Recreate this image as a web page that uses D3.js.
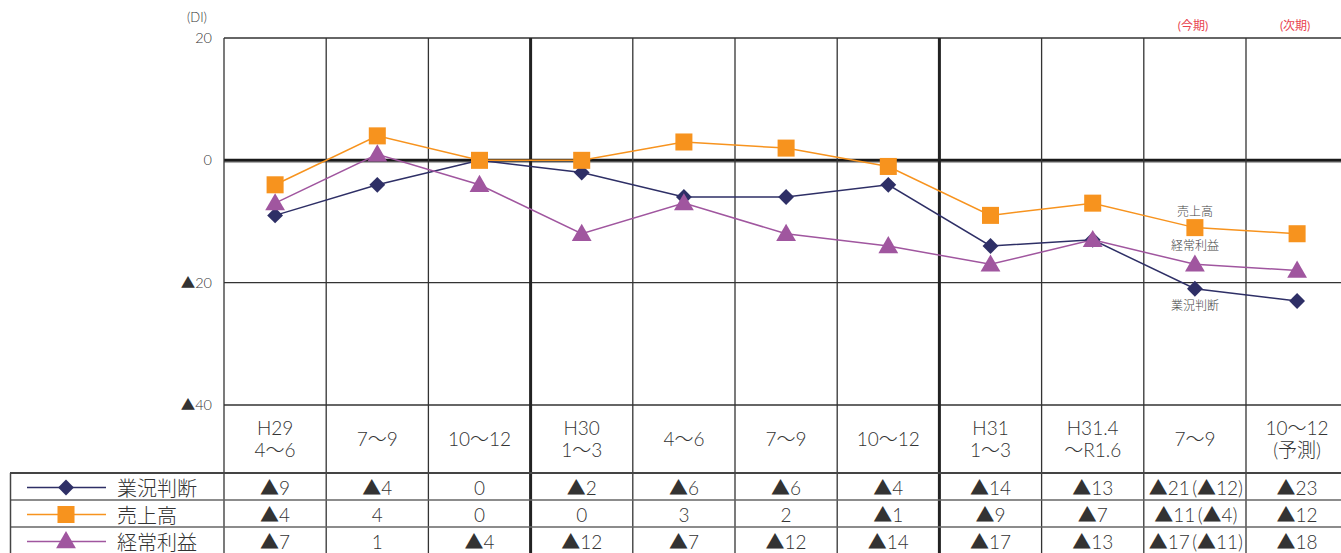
<!DOCTYPE html>
<html>
<head>
<meta charset="utf-8">
<script src="https://cdn.jsdelivr.net/npm/d3@7"></script>
<style>
  html, body { margin: 0; padding: 0; background: #fff; }
  svg { display: block; }
  text { font-family: Lato, "Noto Sans CJK JP", sans-serif; font-weight: 300; }
</style>
</head>
<body>
<svg id="chart" width="1341" height="553"></svg>
<script>
// Quarter labels (two lines each)
const periods = [
  ["H29", "4〜6"], ["7〜9"], ["10〜12"],
  ["H30", "1〜3"], ["4〜6"], ["7〜9"], ["10〜12"],
  ["H31", "1〜3"], ["H31.4", "〜R1.6"], ["7〜9"], ["10〜12", "(予測)"]
];
const seriesNames = ["業況判断", "売上高", "経常利益"];
const businessDI = [-9, -4, 0, -2, -6, -6, -4, -14, -13, -21, -23];
const salesDI    = [-4, 4, 0, 0, 3, 2, -1, -9, -7, -11, -12];
const profitDI   = [-7, 1, -4, -12, -7, -12, -14, -17, -13, -17, -18];
// Previous-survey forecast for the current quarter, shown in brackets
const forecastPrev = [-12, -4, -11];
const forecastCol = 9;
const yTicks = [20, 0, -20, -40];
const periodNotes = [["(今期)", 9], ["(次期)", 10]];
const yearBreaks = [3, 7];

const svg = d3.select("#chart");
const colors = ["#2e2f66", "#f7931e", "#a0569f"];
const symbols = [d3.symbolDiamond2, d3.symbolSquare, d3.symbolTriangle];
const seriesValues = [businessDI, salesDI, profitDI];

const left = 224, colW = 102.2;
const x = d3.scaleBand().domain(d3.range(periods.length))
  .range([left, left + colW * periods.length]).paddingInner(0).paddingOuter(0);
const y = d3.scaleLinear().domain([-40, 20]).range([405, 38]);
const fmt = v => v < 0 ? "▲" + Math.abs(v) : String(v);

const headerBottom = 473, rowH = 27;

// Horizontal grid lines
svg.append("g").selectAll("line").data(yTicks).join("line")
  .attr("x1", left).attr("x2", 1341)
  .attr("y1", d => y(d)).attr("y2", d => y(d))
  .attr("stroke", d => d === 0 ? "#1a1a1a" : "#333")
  .attr("stroke-width", d => d === 0 ? 3 : 1.3);
svg.append("line").attr("x1", left).attr("x2", 1341)
  .attr("y1", y(0) + 2.2).attr("y2", y(0) + 2.2)
  .attr("stroke", "#aaa").attr("stroke-width", 1);

// Vertical column lines through chart and table
const bounds = d3.range(periods.length + 1).map(i => i === periods.length ? x.range()[1] : x(i));
svg.append("g").selectAll("line").data(bounds).join("line")
  .attr("x1", d => d).attr("x2", d => d)
  .attr("y1", y(20)).attr("y2", 553)
  .attr("stroke", (d, i) => yearBreaks.includes(i) ? "#222" : "#333")
  .attr("stroke-width", (d, i) => yearBreaks.includes(i) ? 3 : 1.3);

// Table horizontal lines
svg.append("line").attr("x1", 10).attr("x2", 1341)
  .attr("y1", headerBottom).attr("y2", headerBottom)
  .attr("stroke", "#444").attr("stroke-width", 2);
svg.append("g").selectAll("line").data([1, 2]).join("line")
  .attr("x1", 10).attr("x2", 1341)
  .attr("y1", d => headerBottom + rowH * d).attr("y2", d => headerBottom + rowH * d)
  .attr("stroke", "#666").attr("stroke-width", 1.5);
svg.append("line").attr("x1", 10.5).attr("x2", 10.5)
  .attr("y1", headerBottom).attr("y2", 553)
  .attr("stroke", "#444").attr("stroke-width", 1.5);

// Y axis labels
const yAxis = d3.axisLeft(y).tickValues(yTicks).tickSize(0).tickPadding(12).tickFormat(fmt);
const ya = svg.append("g").attr("transform", `translate(${left},0)`).call(yAxis);
ya.select(".domain").remove();
ya.selectAll("text").attr("font-size", 14.5).attr("fill", "#333")
  .attr("font-family", "Lato, 'Noto Sans CJK JP', sans-serif");
svg.append("text").attr("x", 197).attr("y", 22).attr("text-anchor", "middle")
  .attr("font-size", 13).attr("fill", "#333").text("(DI)");

// Period notes above chart
svg.append("g").selectAll("text").data(periodNotes).join("text")
  .attr("x", d => x(d[1]) + x.bandwidth() / 2 - 2).attr("y", 30)
  .attr("text-anchor", "middle").attr("font-size", 12).attr("fill", "#e8444f")
  .attr("font-family", "'Noto Sans CJK JP', sans-serif").style("font-weight", 400)
  .text(d => d[0]);

// Header cells
const hdr = svg.append("g").selectAll("text").data(periods).join("text")
  .attr("text-anchor", "middle").attr("font-size", 19).attr("fill", "#333")
  .attr("font-family", "Lato, 'Noto Sans CJK JP', sans-serif");
hdr.each(function (d, i) {
  const t = d3.select(this);
  const cx = x(i) + x.bandwidth() / 2;
  const mid = (405 + headerBottom) / 2;
  const lh = 22;
  d.forEach((line, j) => {
    t.append("tspan").attr("x", cx)
      .attr("y", mid + 7 + (j - (d.length - 1) / 2) * lh)
      .text(line);
  });
});

// Series lines and markers
const line = d3.line().x((d, i) => x(i) + x.bandwidth() / 2).y(d => y(d));
seriesValues.forEach((vals, s) => {
  svg.append("path").datum(vals).attr("d", line)
    .attr("fill", "none").attr("stroke", colors[s]).attr("stroke-width", 1.5);
});
const sizes = [160, 290, 170];
seriesValues.forEach((vals, s) => {
  svg.append("g").selectAll("path").data(vals).join("path")
    .attr("transform", (d, i) => `translate(${x(i) + x.bandwidth() / 2},${y(d) + (s === 2 ? 1.5 : 0)})`)
    .attr("d", d3.symbol().type(symbols[s]).size(sizes[s]))
    .attr("fill", colors[s]);
});

// Series name labels near the current quarter
const inLabels = [[0, 310], [1, 216], [2, 250]];
svg.append("g").selectAll("text").data(inLabels).join("text")
  .attr("x", x(9) + x.bandwidth() / 2).attr("y", d => d[1])
  .attr("text-anchor", "middle").attr("font-size", 12).attr("fill", "#444")
  .attr("font-family", "'Noto Sans CJK JP', sans-serif")
  .text(d => seriesNames[d[0]]);

// Legend column
seriesNames.forEach((name, s) => {
  const cy = headerBottom + rowH * s + rowH / 2 + 1;
  const g = svg.append("g");
  g.append("line").attr("x1", 27).attr("x2", 106).attr("y1", cy).attr("y2", cy)
    .attr("stroke", colors[s]).attr("stroke-width", 1.3);
  g.append("path").attr("transform", `translate(66,${cy + (s === 2 ? 1 : 0)})`)
    .attr("d", d3.symbol().type(symbols[s]).size(sizes[s]))
    .attr("fill", colors[s]);
  g.append("text").attr("x", 117).attr("y", cy + 8).attr("font-size", 20)
    .attr("fill", "#333").attr("font-family", "'Noto Sans CJK JP', sans-serif")
    .text(name);
});

// Value cells (current quarter also carries the previous forecast)
seriesValues.forEach((vals, s) => {
  const cy = headerBottom + rowH * s + rowH / 2 + 1;
  svg.append("g").selectAll("text").data(vals).join("text")
    .attr("x", (d, i) => x(i) + x.bandwidth() / 2 + (i === forecastCol ? 1 : 0))
    .attr("y", cy + 7)
    .attr("text-anchor", "middle").attr("font-size", 19).attr("fill", "#333")
    .text((d, i) => i === forecastCol ? `${fmt(d)}\u2009(${fmt(forecastPrev[s])})` : fmt(d));
});
</script>
</body>
</html>
